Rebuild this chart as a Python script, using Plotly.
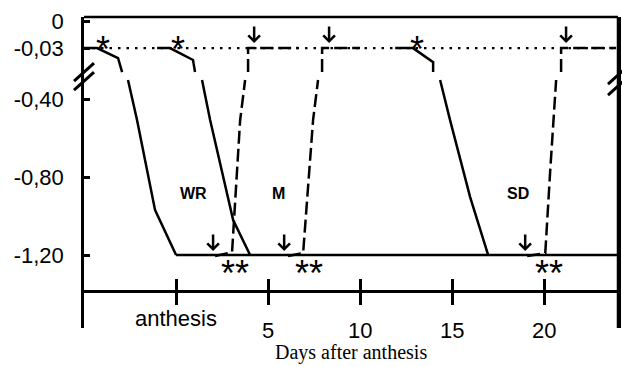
import plotly.graph_objects as go

# ---------------- axis / scale definitions (broken y axis) ----------------
Y_03 = -0.136            # axis position at which the -0,03 level is drawn
X_RANGE = [-5, 24]
Y_RANGE = [-1.575, 0.024]
X_AXIS_LEVEL = -1.385    # where the day axis crosses
BREAK_LEVEL = -0.28      # axis break position

y_tickvals = [0, Y_03, -0.40, -0.80, -1.20]
y_ticktext = ["0", "-0,03", "-0,40", "-0,80", "-1,20"]
x_tickvals = [0, 5, 10, 15, 20]
x_ticktext = ["", "5", "10", "15", "20"]

# ---------------- data ----------------
control_x = [-5, 24]
control_y = [Y_03, Y_03]

base_x = [0, 24]
base_y = [-1.20, -1.20]

# stress (solid) curves, upper part | lower part separated by the axis break
wr_stress_x = [-5.05, -4.29, -3.15, -2.93, None, -2.61, -2.12, -1.14, 0.0]
wr_stress_y = [Y_03, Y_03, -0.187, -0.259, None, -0.300, -0.506, -0.969, -1.20]

m_stress_x = [-1.03, -0.33, 0.92, 1.03, None, 1.41, 1.85, 3.10, 4.02]
m_stress_y = [Y_03, Y_03, -0.197, -0.259, None, -0.300, -0.506, -1.020, -1.20]

sd_stress_x = [11.90, 12.87, 13.96, 13.96, None, 14.34, 14.88, 15.97, 16.95]
sd_stress_y = [Y_03, Y_03, -0.208, -0.259, None, -0.300, -0.506, -0.902, -1.20]

# recovery (dashed) curves
wr_rec_x = [2.12, 3.04, 3.48, 3.75, None, 3.91, 3.91, 6.63]
wr_rec_y = [-1.205, -1.185, -0.506, -0.300, None, -0.259, Y_03, Y_03]

m_rec_x = [6.08, 6.90, 7.44, 7.71, None, 7.93, 7.93, 9.99]
m_rec_y = [-1.205, -1.190, -0.506, -0.300, None, -0.259, Y_03, Y_03]

sd_rec_x = [19.07, 20.05, 20.32, 20.48, 20.64, None, 20.91, 20.91, 23.9]
sd_rec_y = [-1.205, -1.190, -0.763, -0.506, -0.300, None, -0.259, Y_03, Y_03]

# markers of significance and rewatering arrows
star_top_x = [-3.97, 0.11, 13.09]
star_top_y = [-0.11, -0.11, -0.11]
star_bot_x = [3.20, 7.22, 20.26]
star_bot_y = [-1.262, -1.262, -1.262]
arrow_top_x = [4.24, 8.31, 21.18]
arrow_top_y = [-0.11, -0.11, -0.11]
arrow_bot_x = [2.01, 5.87, 18.96]
arrow_bot_y = [-1.179, -1.179, -1.179]

group_labels = ["WR", "M", "SD"]
group_x = [0.92, 5.54, 18.58]
group_y = [-0.881, -0.881, -0.881]

# ---------------- figure ----------------
LW = 2.5
fig = go.Figure()

fig.add_trace(go.Scatter(x=control_x, y=control_y, mode="lines",
                         line=dict(color="black", width=2.2, dash="2.5px,6px")))
fig.add_trace(go.Scatter(x=base_x, y=base_y, mode="lines",
                         line=dict(color="black", width=LW)))
for xs, ys in [(wr_stress_x, wr_stress_y), (m_stress_x, m_stress_y), (sd_stress_x, sd_stress_y)]:
    fig.add_trace(go.Scatter(x=xs, y=ys, mode="lines", connectgaps=False,
                             line=dict(color="black", width=LW)))
for xs, ys in [(wr_rec_x, wr_rec_y), (m_rec_x, m_rec_y), (sd_rec_x, sd_rec_y)]:
    fig.add_trace(go.Scatter(x=xs, y=ys, mode="lines", connectgaps=False,
                             line=dict(color="black", width=LW, dash="13px,5px")))
# dummy trace for the second (inside-tick) day axis
fig.add_trace(go.Scatter(x=[None], y=[None], xaxis="x2", mode="lines", hoverinfo="skip"))

ann = []
for x, y in zip(star_top_x, star_top_y):
    ann.append(dict(x=x, y=y, text="*", showarrow=False, yanchor="middle",
                    font=dict(size=36, family="Liberation Sans, Arial"), yshift=-6))
for x, y in zip(star_bot_x, star_bot_y):
    ann.append(dict(x=x, y=y, text="**", showarrow=False, yanchor="middle",
                    font=dict(size=36, family="Liberation Sans, Arial"), yshift=-6))
for x, y in zip(arrow_top_x + arrow_bot_x, arrow_top_y + arrow_bot_y):
    ann.append(dict(x=x, y=y, text="", showarrow=True, ax=0, ay=-18,
                    arrowhead=4, arrowsize=0.9, arrowwidth=2.5, arrowcolor="black", standoff=0))
for t, x, y in zip(group_labels, group_x, group_y):
    ann.append(dict(x=x, y=y, text="<b>%s</b>" % t, showarrow=False,
                    font=dict(size=16, family="Liberation Sans, Arial")))
ann.append(dict(x=0, y=-1.524, text="anthesis", showarrow=False,
                font=dict(size=22, family="Liberation Sans, Arial")))
ann.append(dict(x=0.5, xref="paper", y=0, yref="paper", yanchor="top", yshift=-11,
                text="Days after anthesis", showarrow=False,
                font=dict(size=20, family="Liberation Serif, Times New Roman")))

span = Y_RANGE[1] - Y_RANGE[0]
break_paper = (BREAK_LEVEL - Y_RANGE[0]) / span
shapes = [dict(type="line", xref="paper", yref="paper", x0=0, x1=1, y0=1, y1=1,
               line=dict(color="black", width=LW)),
          dict(type="line", xref="paper", yref="paper", x0=1, x1=1, y0=0, y1=1,
               line=dict(color="black", width=LW))]
for xa, offs in [(0, [4, -5]), (1, [1, -10])]:
    for o in offs:
        shapes.append(dict(type="line", xref="paper", yref="paper", xsizemode="pixel", ysizemode="pixel",
                           xanchor=xa, yanchor=break_paper,
                           x0=-10, x1=10, y0=o - 9, y1=o + 9,
                           line=dict(color="black", width=3)))

pos = (X_AXIS_LEVEL - Y_RANGE[0]) / span

fig.update_layout(
    width=622, height=367,
    margin=dict(l=84, r=4, t=17, b=39),
    plot_bgcolor="white", paper_bgcolor="white",
    showlegend=False,
    font=dict(family="Liberation Sans, Arial", size=22, color="black"),
    annotations=ann, shapes=shapes,
    xaxis=dict(range=X_RANGE, tickvals=x_tickvals, ticktext=x_ticktext,
               ticks="outside", ticklen=12, tickwidth=LW, tickcolor="black",
               showline=True, linewidth=LW, linecolor="black",
               anchor="free", position=pos, showgrid=False, zeroline=False,
               ticklabelstandoff=7, automargin=False),
    xaxis2=dict(range=X_RANGE, tickvals=x_tickvals, overlaying="x",
                ticks="inside", ticklen=12, tickwidth=LW, tickcolor="black",
                showticklabels=False, showline=False,
                anchor="free", position=pos, showgrid=False, zeroline=False,
                automargin=False),
    yaxis=dict(range=Y_RANGE, tickvals=y_tickvals, ticktext=y_ticktext,
               ticks="inside", ticklen=6, tickwidth=LW, tickcolor="black",
               showline=True, linewidth=LW, linecolor="black", mirror=True,
               showgrid=False, zeroline=False, ticklabelstandoff=13,
               automargin=False),
)

# place the 622x367 figure flush with the window (no default page margin)
fig.write_html("out.html",
               config={"displayModeBar": False},
               post_script="document.body.style.margin='0';"
                           "document.body.style.overflow='hidden';")
